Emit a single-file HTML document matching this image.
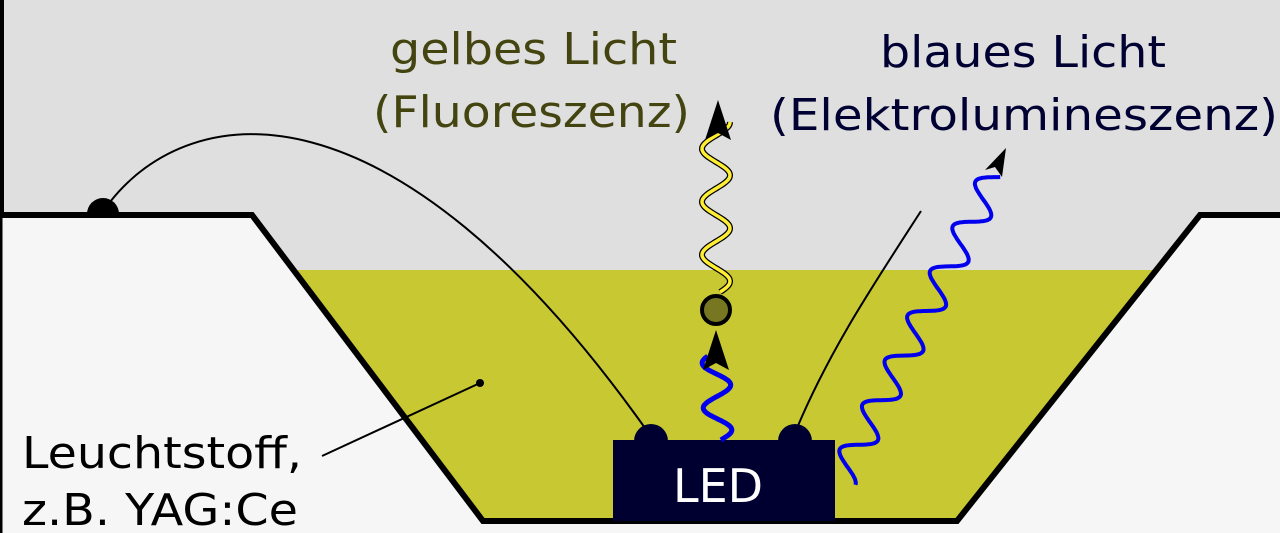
<!DOCTYPE html>
<html><head><meta charset="utf-8"><style>
html,body{margin:0;padding:0;background:#dfdfdf}
svg{display:block}
text{font-family:"DejaVu Sans","Liberation Sans",sans-serif}
</style></head><body>
<svg id="s" width="1280" height="533" viewBox="0 0 1280 533" xmlns="http://www.w3.org/2000/svg">
<rect x="0" y="0" width="1280" height="533" fill="#dfdfdf"/>
<circle cx="103" cy="214" r="16" fill="#000"/>
<path d="M0,215 L252,215 L483,521 L957,521 L1200,215 L1280,215 L1280,533 L0,533 Z" fill="#f6f6f6"/>
<path d="M294,270 L1156,270 L957,521 L483,521 Z" fill="#c8c832"/>
<path d="M1,0 L1,215 L252,215 L483,521 L957,521 L1200,215 L1280,215" fill="none" stroke="#000" stroke-width="6"/>
<path d="M1,215 L1,533" stroke="#000" stroke-width="3"/>
<path d="M110,202 C190,100 390,70 645,428" fill="none" stroke="#000" stroke-width="2"/>
<path d="M797,428 C830,350 870,290 921,211" fill="none" stroke="#000" stroke-width="2"/>
<path d="M322,456 L480,383" stroke="#000" stroke-width="2"/>
<circle cx="480" cy="383" r="4" fill="#000"/>
<circle cx="651" cy="441" r="17" fill="#000030"/>
<circle cx="795" cy="441" r="17" fill="#000030"/>
<rect x="613" y="440" width="222" height="81" fill="#000030"/>
<text x="718" y="502" fill="#fff" font-size="46" text-anchor="middle">LED</text>
<circle cx="716" cy="310" r="14" fill="#777722" stroke="#000" stroke-width="4"/>
<g id="w"></g>
<path d="M718,100 L731,140 L718,133 L705,140 Z" fill="#000"/>
<path d="M716,330 L729,370 L716,363 L703,370 Z" fill="#000"/>
<path d="M1006,148 L1002,177 L995,167 L985,170 Z" fill="#000"/>
<text x="390" y="64" fill="#444411" font-size="44" textLength="287" lengthAdjust="spacingAndGlyphs">gelbes Licht</text>
<text x="373" y="127" fill="#444411" font-size="44" textLength="317" lengthAdjust="spacingAndGlyphs">(Fluoreszenz)</text>
<text x="880" y="67" fill="#000033" font-size="44" textLength="286" lengthAdjust="spacingAndGlyphs">blaues Licht</text>
<text x="770" y="130" fill="#000033" font-size="44" textLength="508" lengthAdjust="spacingAndGlyphs">(Elektrolumineszenz)</text>
<text x="22" y="468" fill="#000" font-size="44" textLength="280" lengthAdjust="spacingAndGlyphs">Leuchtstoff,</text>
<text x="22" y="525" fill="#000" font-size="44" textLength="276" lengthAdjust="spacingAndGlyphs">z.B. YAG:Ce</text>
</svg>
<script>
function wave(x0,y0,x1,y1,amp,per,phase){
 var dx=x1-x0,dy=y1-y0,L=Math.sqrt(dx*dx+dy*dy),ux=dx/L,uy=dy/L,px=-uy,py=ux,d="";
 for(var t=0;t<=L;t+=1){var o=amp*Math.sin(2*Math.PI*t/per+phase);
  d+=(t?"L":"M")+(x0+ux*t+px*o).toFixed(1)+","+(y0+uy*t+py*o).toFixed(1);}
 return d;}
var g=document.getElementById("w"),ns="http://www.w3.org/2000/svg";
function add(d,c,w){var p=document.createElementNS(ns,"path");p.setAttribute("d",d);p.setAttribute("fill","none");p.setAttribute("stroke",c);p.setAttribute("stroke-width",w);g.appendChild(p);}
var yw=wave(716,292,716,122,14,53,0.3);
add(yw,"#000",6);add(yw,"#ffee33",3.5);
add(wave(718,440,716,356,14,45,0.2),"#0000ee",5);
add(wave(842,478,996,174,15,50,1.6),"#0000ee",4);
</script>
</body></html>
